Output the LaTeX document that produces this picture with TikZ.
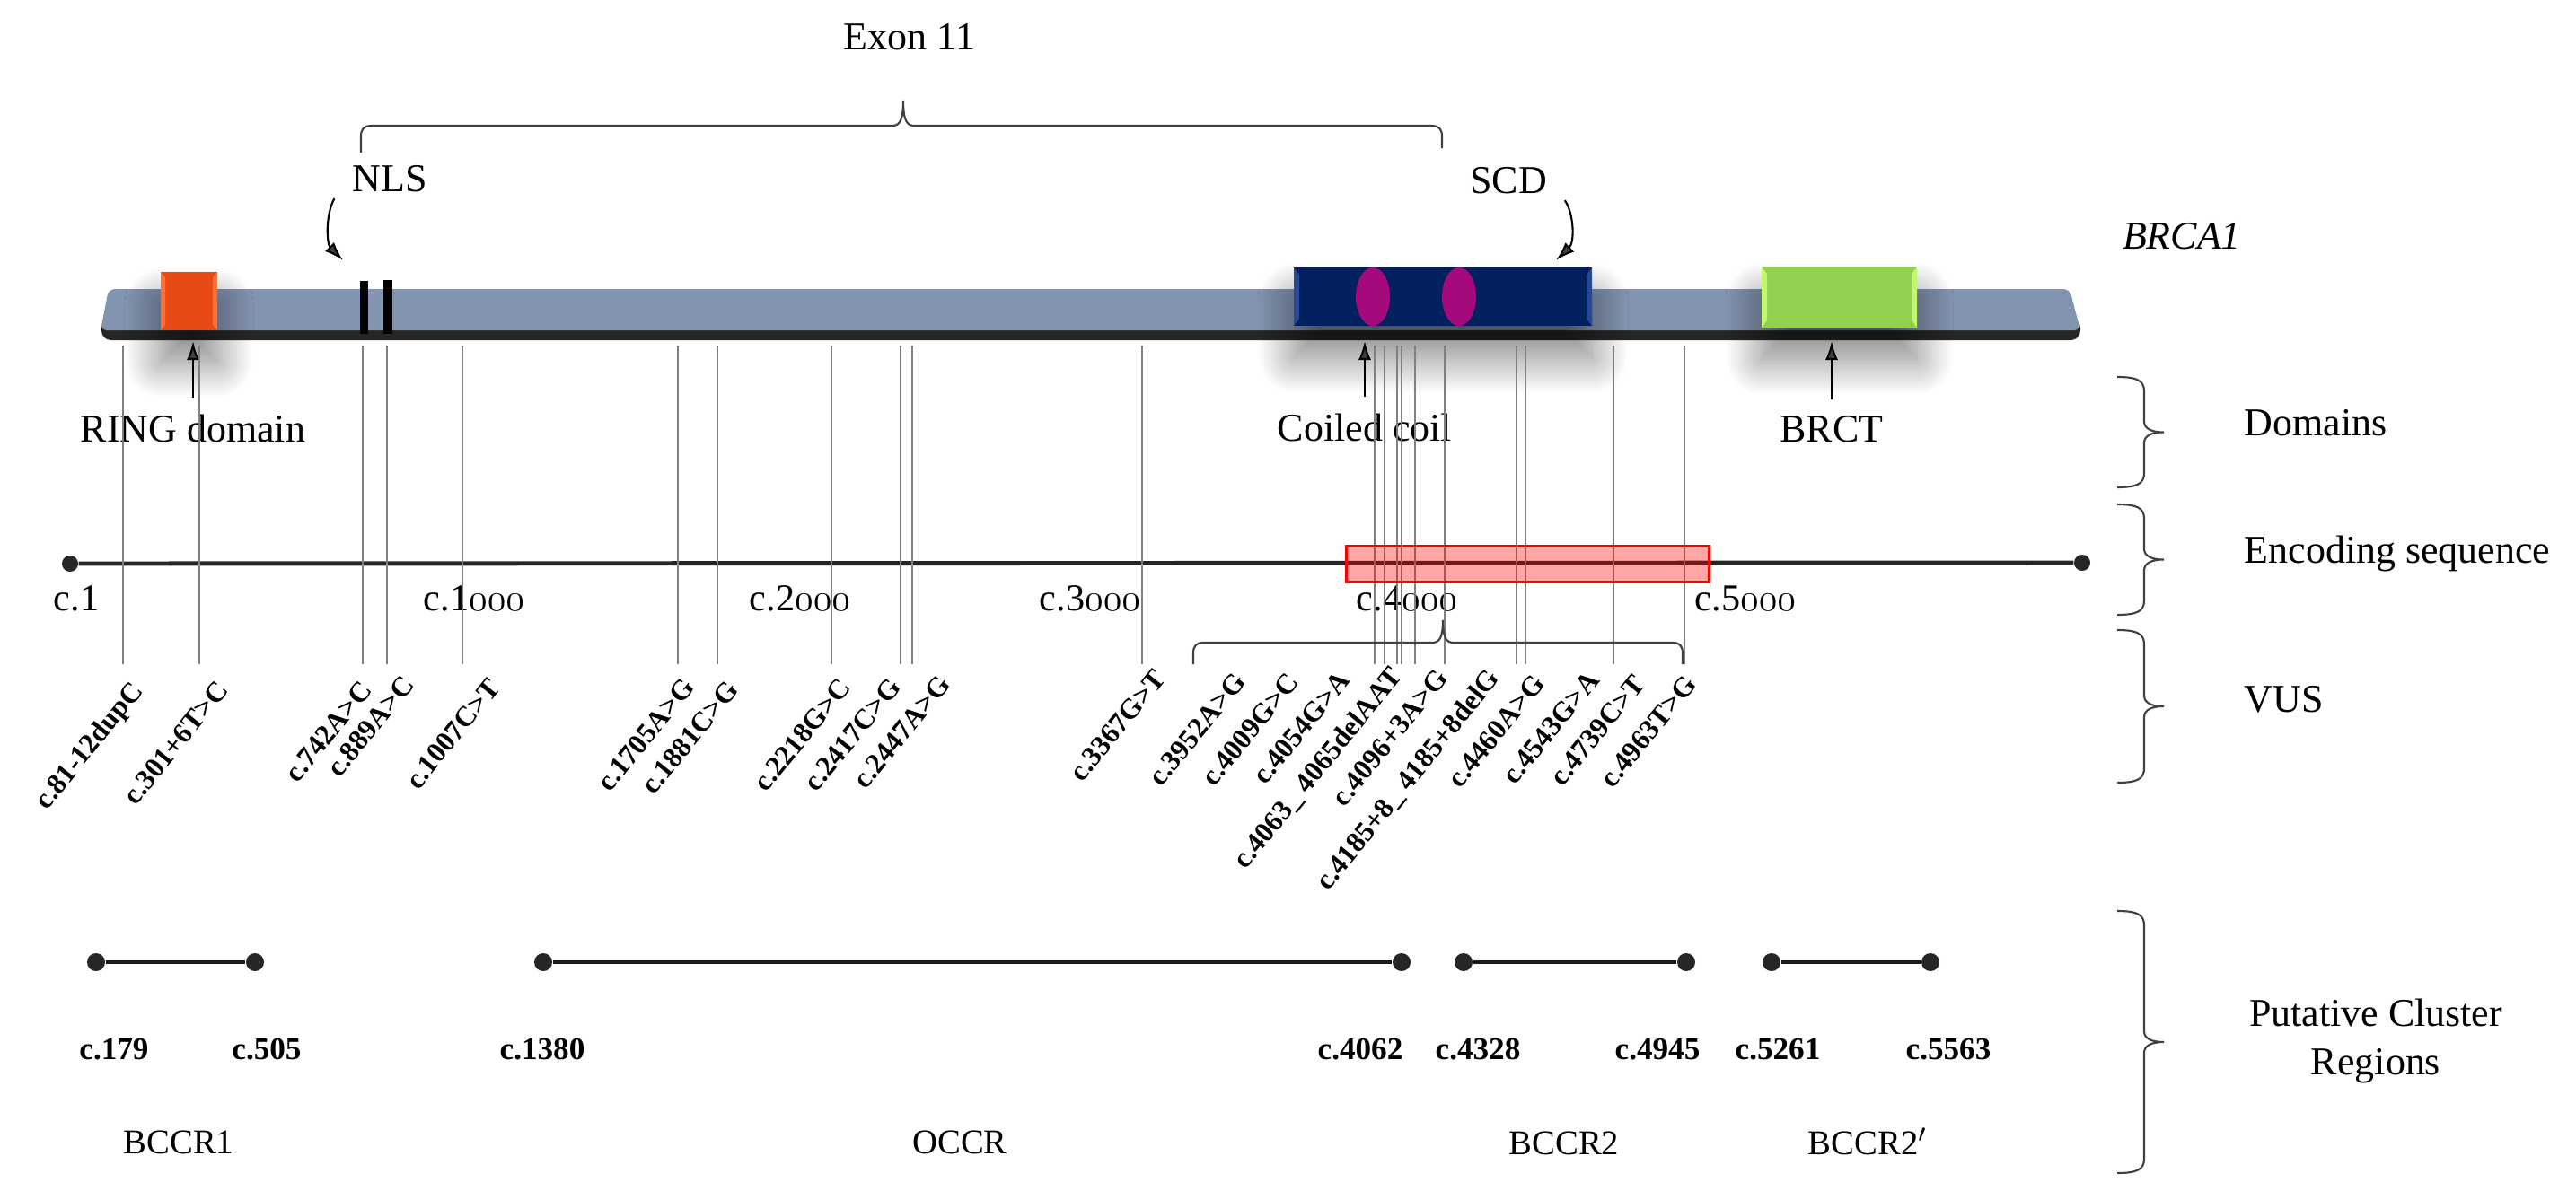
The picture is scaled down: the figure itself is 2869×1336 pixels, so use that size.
\documentclass[tikz,border=0pt]{standalone}
\usepackage{fontspec}
\setmainfont{Liberation Serif}
\usetikzlibrary{arrows.meta,shadows.blur}

\definecolor{barC}{RGB}{131,148,176}
\definecolor{ringC}{RGB}{232,74,22}
\definecolor{ringL}{RGB}{255,112,52}
\definecolor{navyC}{RGB}{2,32,94}
\definecolor{navyL}{RGB}{40,72,145}
\definecolor{magC}{RGB}{165,10,125}
\definecolor{brctC}{RGB}{146,208,80}
\definecolor{brctL}{RGB}{195,245,115}

% algarismos antigos para c.1000 etc.
\newcommand{\osn}[1]{{\usefont{OML}{cmm}{m}{it}#1}}
% chave vertical do lado direito
\newcommand{\chave}[2]{%
  \pgfmathsetmacro{\ym}{(#1+#2)/2}
  \draw[bracket] (2358,#1) .. controls (2380,#1) and (2388,#1+4) .. (2388,#1+16)
    -- (2388,\ym-12) .. controls (2388,\ym-4) and (2396,\ym) .. (2410,\ym)
    .. controls (2396,\ym) and (2388,\ym+4) .. (2388,\ym+12)
    -- (2388,#2-16) .. controls (2388,#2-4) and (2380,#2) .. (2358,#2);}

\begin{document}
\begin{tikzpicture}[x=0.01cm, y=-0.01cm,
    lbl/.style={font=\fontsize{12.5}{15}\selectfont, inner sep=2pt, anchor=base},
    side/.style={lbl, anchor=base west},
    axislbl/.style={font=\fontsize{12}{14}\selectfont, inner sep=1pt, anchor=base},
    vus/.style={font=\fontsize{9}{10}\selectfont\bfseries, rotate=51, anchor=north east, inner sep=0.5pt},
    reglbl/.style={font=\fontsize{10}{12}\selectfont\bfseries, anchor=base},
    regname/.style={font=\fontsize{11}{13}\selectfont, anchor=base},
    guide/.style={gray, line width=0.3pt},
    pointer/.style={-{Latex[length=6pt,width=4pt]}, line width=0.6pt},
    bracket/.style={black!75, line width=0.6pt},
    dot/.style={circle, fill=black!85, inner sep=0pt, minimum size=0.18cm},
    seg/.style={black!90, line width=1.3pt},
    boxshadow/.style={blur shadow={shadow xshift=0pt, shadow yshift=-0.35cm,
      shadow blur radius=0.4cm, shadow blur steps=30, shadow opacity=50}}]
  \useasboundingbox (0,0) rectangle (2869,1336);

  % chave do exon 11
  \node[lbl] (exon) at (1013,55) {Exon 11};
  \draw[bracket] (402,170) -- (402,152) .. controls (402,144) and (405,140) .. (414,140)
    -- (994,140) .. controls (1002,140) and (1006,134) .. (1006,112)
    .. controls (1006,134) and (1010,140) .. (1018,140)
    -- (1594,140) .. controls (1603,140) and (1606,144) .. (1606,152) -- (1606,165);

  % barra da proteína
  \fill[black!85, rounded corners=3pt] (113,355) -- (2317,355) -- (2317,379) -- (113,379) -- cycle;
  \fill[barC, rounded corners=2pt] (121,322) -- (2305,322) -- (2317,368) -- (112,368) -- cycle;
  \coordinate (barBase) at (0,380);

  % domínio RING
  \fill[ringC, boxshadow] (179,303) rectangle (242,368);
  \fill[ringL] (179,303) -- (184,309) -- (184,362) -- (179,368) -- cycle;
  \fill[ringL] (242,303) -- (237,309) -- (237,362) -- (242,368) -- cycle;
  % NLS
  \fill (401,313) rectangle (410,372);
  \fill (427,312) rectangle (437,372);
  % coiled coil / SCD
  \fill[navyC, boxshadow] (1441,298) rectangle (1773,363);
  \fill[navyL] (1441,298) -- (1447,306) -- (1447,355) -- (1441,363) -- cycle;
  \fill[navyL] (1773,298) -- (1767,306) -- (1767,355) -- (1773,363) -- cycle;
  \fill[magC] (1529,330.5) ellipse [x radius=0.19cm, y radius=0.325cm];
  \fill[magC] (1625,330.5) ellipse [x radius=0.19cm, y radius=0.325cm];
  % BRCT
  \fill[brctC, boxshadow] (1962,297) rectangle (2135,365);
  \fill[brctL] (1962,297) -- (1968,305) -- (1968,357) -- (1962,365) -- cycle;
  \fill[brctL] (2135,297) -- (2129,305) -- (2129,357) -- (2135,365) -- cycle;

  \node[lbl, font=\fontsize{12.5}{15}\selectfont\itshape] (gene) at (2430,277) {BRCA1};

  % setas curvas NLS e SCD
  \node[lbl] (nlsLbl) at (434,213) {NLS};
  \node[lbl] (scdLbl) at (1680,215) {SCD};
  \coordinate (nlsTip) at (382,290);
  \coordinate (scdTip) at (1733,290);
  \draw[pointer] ([xshift=-3.5pt]nlsLbl.south west) .. controls (362,240) and (364,272) .. (nlsTip);
  \draw[pointer] ([xshift=3.5pt]scdLbl.south east) .. controls (1753,238) and (1754,270) .. (scdTip);

  % rótulos dos domínios
  \node[lbl] (ringLbl) at (215,492) {RING domain};
  \node[lbl] (coilLbl) at (1520,491) {Coiled coil};
  \node[lbl] (brctLbl) at (2040,492) {BRCT};
  \foreach \n in {ringLbl,coilLbl,brctLbl}
    \draw[pointer, shorten <=3pt] (\n.north) -- (\n.north |- barBase);

  % sequência codificante
  \node[dot] (cIni) at (78,628) {};
  \node[dot] (cFim) at (2319,627) {};
  \draw[black!85, line width=1.4pt] (cIni) -- (cFim);
  \node[axislbl] (ax0) at (85,680) {c.1};
  \foreach \x/\d in {528/1,891/2,1214/3,1567/4,1944/5}
    \node[axislbl] (ax\d) at (\x,680) {c.\d\osn{000}};

  % linhas guia e VUS
  \foreach \lx/\tx/\ty/\txt [count=\i] in {
      137/143/753/c.81-12dupC, 222/239/753/c.301+6T>C, 404/399/753/c.742A>C,
      431/446/747/c.889A>C, 515/542/750/c.1007C>T, 755/758/750/c.1705A>G,
      799/807/753/c.1881C>G, 926/932/750/c.2218G>C, 1003/988/750/c.2417C>G,
      1016/1043/747/c.2447A>G, 1272/1283/740/c.3367G>T, 1531/1372/744/c.3952A>G,
      1542/1431/744/c.4009G>C, 1556/1488/742/c.4054G>A, 1561/1545/737/c.4063\_ 4065delAAT,
      1576/1597/740/c.4096+3A>G, 1609/1654/739/c.4185+8\_ 4185+8delG,
      1689/1705/746/c.4460A>G, 1699/1766/742/c.4543G>A, 1797/1817/746/c.4739C>T,
      1876/1874/747/c.4963T>G} {
    \coordinate (ga\i) at (\lx,385);
    \coordinate (gb\i) at (\lx,740);
    \draw[guide] (ga\i) -- (gb\i);
    \node[vus] (vus\i) at (\tx,\ty) {\txt};
  }

  % região destacada
  \draw[red, line width=0.85pt, fill=red, fill opacity=0.35] (1499,608) rectangle (1903,648);

  % chave dos VUS
  \draw[bracket] (1329,740) -- (1329,728) .. controls (1329,720) and (1332,716) .. (1340,716)
    -- (1595,716) .. controls (1603,716) and (1607,711) .. (1607,691)
    .. controls (1607,711) and (1611,716) .. (1619,716)
    -- (1863,716) .. controls (1871,716) and (1874,720) .. (1874,728) -- (1874,740);

  % regiões de cluster
  \foreach \xa/\xb/\pa/\pb/\la/\lb [count=\k] in {
      107/284/127/297/179/505, 605/1561/604/1515/1380/4062,
      1630/1878/1646/1846/4328/4945, 1973/2150/1980/2170/5261/5563} {
    \node[dot, minimum size=0.2cm] (ra\k) at (\xa,1072) {};
    \node[dot, minimum size=0.2cm] (rb\k) at (\xb,1072) {};
    \draw[seg] (ra\k) -- (rb\k);
    \node[reglbl] (la\k) at (\pa,1180) {c.\la};
    \node[reglbl] (lb\k) at (\pb,1180) {c.\lb};
  }
  \node[regname] (bccr1) at (199,1285) {BCCR1};
  \node[regname] (occr) at (1069,1285) {OCCR};
  \node[regname] (bccr2) at (1742,1286) {BCCR2};
  \node[regname] (bccr2p) at (2080,1286) {BCCR2$'$};

  % chaves e títulos à direita
  \chave{420}{543}
  \chave{562}{685}
  \chave{702}{872}
  \chave{1015}{1307}
  \node[side] (dom) at (2492,485) {Domains};
  \node[side] (enc) at (2492,627) {Encoding sequence};
  \node[side] (vusT) at (2492,793) {VUS};
  \node[lbl, anchor=center, align=center, font=\fontsize{12.5}{15.6}\selectfont] (pcr) at (2646,1160)
    {Putative Cluster\\Regions};
\end{tikzpicture}
\end{document}
